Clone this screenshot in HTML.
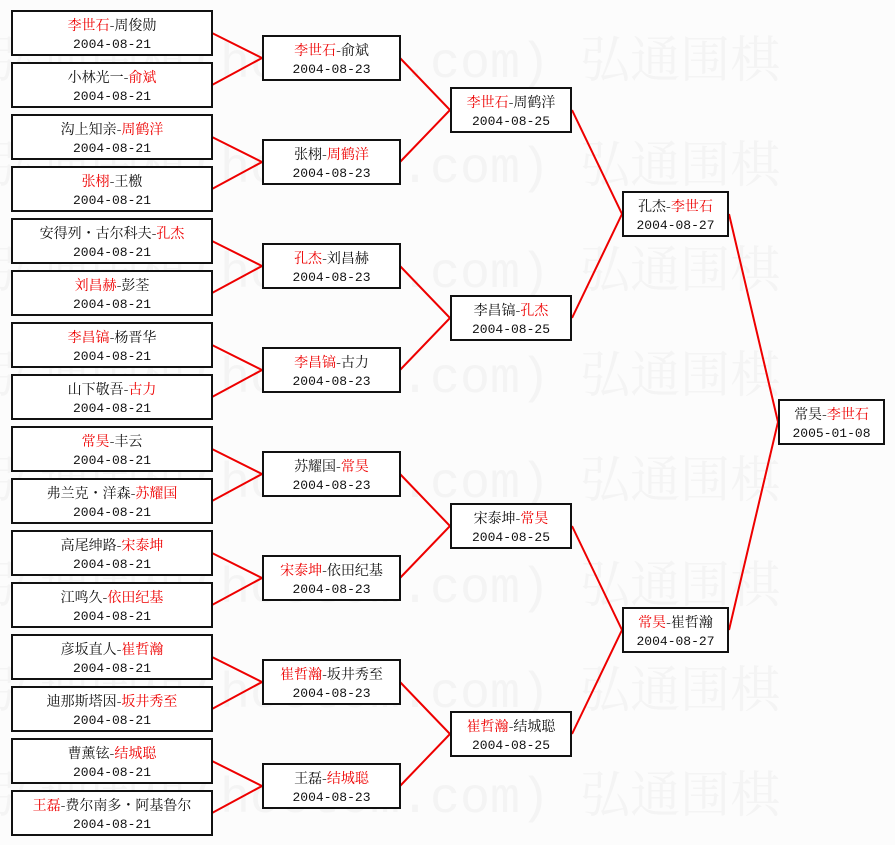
<!DOCTYPE html>
<html><head><meta charset="utf-8"><style>
body{margin:0;width:895px;height:845px;background:#fcfcfc;position:relative;overflow:hidden;font-family:"Liberation Sans","Noto Serif CJK SC",serif;}
.wm{position:absolute;left:0;font-size:50px;color:#f4f4f4;white-space:nowrap;font-family:"Liberation Mono","Noto Serif CJK SC",serif;}
.b{position:absolute;box-sizing:border-box;border:2px solid #111;background:#fff;height:46px;text-align:center;font-size:14px;line-height:18px;padding-top:4px;color:#111;white-space:nowrap;font-family:"Noto Serif CJK SC",serif}
.d{font-family:"Liberation Mono",monospace;font-size:13px}
.r{color:#e00}
.c1{left:11px;width:202px}.c2{left:262px;width:139px}.c3{left:450px;width:122px}.c4{left:622px;width:107px}.c5{left:778px;width:107px}
svg{position:absolute;left:0;top:0}
</style></head><body>
<div class="wm" style="top:20px;left:-10px">弘通围棋(hoetom.com) 弘通围棋</div>
<div class="wm" style="top:125px;left:-10px">弘通围棋(hoetom.com) 弘通围棋</div>
<div class="wm" style="top:230px;left:-10px">弘通围棋(hoetom.com) 弘通围棋</div>
<div class="wm" style="top:335px;left:-10px">弘通围棋(hoetom.com) 弘通围棋</div>
<div class="wm" style="top:440px;left:-10px">弘通围棋(hoetom.com) 弘通围棋</div>
<div class="wm" style="top:545px;left:-10px">弘通围棋(hoetom.com) 弘通围棋</div>
<div class="wm" style="top:650px;left:-10px">弘通围棋(hoetom.com) 弘通围棋</div>
<div class="wm" style="top:755px;left:-10px">弘通围棋(hoetom.com) 弘通围棋</div>
<svg width="895" height="845" stroke="#e00" stroke-width="2" fill="none">
<path d="M212 33L262 58L212 85M212 137L262 162L212 189M212 241L262 266L212 293M212 345L262 370L212 397M212 449L262 474L212 501M212 553L262 578L212 605M212 657L262 682L212 709M212 761L262 786L212 813"/>
<path d="M400 58L450 110L400 162M400 266L450 318L400 370M400 474L450 526L400 578M400 682L450 734L400 786"/>
<path d="M572 110L622 214L572 318M572 526L622 630L572 734"/>
<path d="M729 214L778 422L729 630"/>
</svg>
<div class="b c1" style="top:10px"><span class="r">李世石</span>-周俊勋<br><span class="d">2004-08-21</span></div>
<div class="b c1" style="top:62px">小林光一-<span class="r">俞斌</span><br><span class="d">2004-08-21</span></div>
<div class="b c1" style="top:114px">沟上知亲-<span class="r">周鹤洋</span><br><span class="d">2004-08-21</span></div>
<div class="b c1" style="top:166px"><span class="r">张栩</span>-王檄<br><span class="d">2004-08-21</span></div>
<div class="b c1" style="top:218px">安得列・古尔科夫-<span class="r">孔杰</span><br><span class="d">2004-08-21</span></div>
<div class="b c1" style="top:270px"><span class="r">刘昌赫</span>-彭荃<br><span class="d">2004-08-21</span></div>
<div class="b c1" style="top:322px"><span class="r">李昌镐</span>-杨晋华<br><span class="d">2004-08-21</span></div>
<div class="b c1" style="top:374px">山下敬吾-<span class="r">古力</span><br><span class="d">2004-08-21</span></div>
<div class="b c1" style="top:426px"><span class="r">常昊</span>-丰云<br><span class="d">2004-08-21</span></div>
<div class="b c1" style="top:478px">弗兰克・洋森-<span class="r">苏耀国</span><br><span class="d">2004-08-21</span></div>
<div class="b c1" style="top:530px">高尾绅路-<span class="r">宋泰坤</span><br><span class="d">2004-08-21</span></div>
<div class="b c1" style="top:582px">江鸣久-<span class="r">依田纪基</span><br><span class="d">2004-08-21</span></div>
<div class="b c1" style="top:634px">彦坂直人-<span class="r">崔哲瀚</span><br><span class="d">2004-08-21</span></div>
<div class="b c1" style="top:686px">迪那斯塔因-<span class="r">坂井秀至</span><br><span class="d">2004-08-21</span></div>
<div class="b c1" style="top:738px">曹薰铉-<span class="r">结城聪</span><br><span class="d">2004-08-21</span></div>
<div class="b c1" style="top:790px"><span class="r">王磊</span>-费尔南多・阿基鲁尔<br><span class="d">2004-08-21</span></div>
<div class="b c2" style="top:35px"><span class="r">李世石</span>-俞斌<br><span class="d">2004-08-23</span></div>
<div class="b c2" style="top:139px">张栩-<span class="r">周鹤洋</span><br><span class="d">2004-08-23</span></div>
<div class="b c2" style="top:243px"><span class="r">孔杰</span>-刘昌赫<br><span class="d">2004-08-23</span></div>
<div class="b c2" style="top:347px"><span class="r">李昌镐</span>-古力<br><span class="d">2004-08-23</span></div>
<div class="b c2" style="top:451px">苏耀国-<span class="r">常昊</span><br><span class="d">2004-08-23</span></div>
<div class="b c2" style="top:555px"><span class="r">宋泰坤</span>-依田纪基<br><span class="d">2004-08-23</span></div>
<div class="b c2" style="top:659px"><span class="r">崔哲瀚</span>-坂井秀至<br><span class="d">2004-08-23</span></div>
<div class="b c2" style="top:763px">王磊-<span class="r">结城聪</span><br><span class="d">2004-08-23</span></div>
<div class="b c3" style="top:87px"><span class="r">李世石</span>-周鹤洋<br><span class="d">2004-08-25</span></div>
<div class="b c3" style="top:295px">李昌镐-<span class="r">孔杰</span><br><span class="d">2004-08-25</span></div>
<div class="b c3" style="top:503px">宋泰坤-<span class="r">常昊</span><br><span class="d">2004-08-25</span></div>
<div class="b c3" style="top:711px"><span class="r">崔哲瀚</span>-结城聪<br><span class="d">2004-08-25</span></div>
<div class="b c4" style="top:191px">孔杰-<span class="r">李世石</span><br><span class="d">2004-08-27</span></div>
<div class="b c4" style="top:607px"><span class="r">常昊</span>-崔哲瀚<br><span class="d">2004-08-27</span></div>
<div class="b c5" style="top:399px">常昊-<span class="r">李世石</span><br><span class="d">2005-01-08</span></div>
</body></html>
